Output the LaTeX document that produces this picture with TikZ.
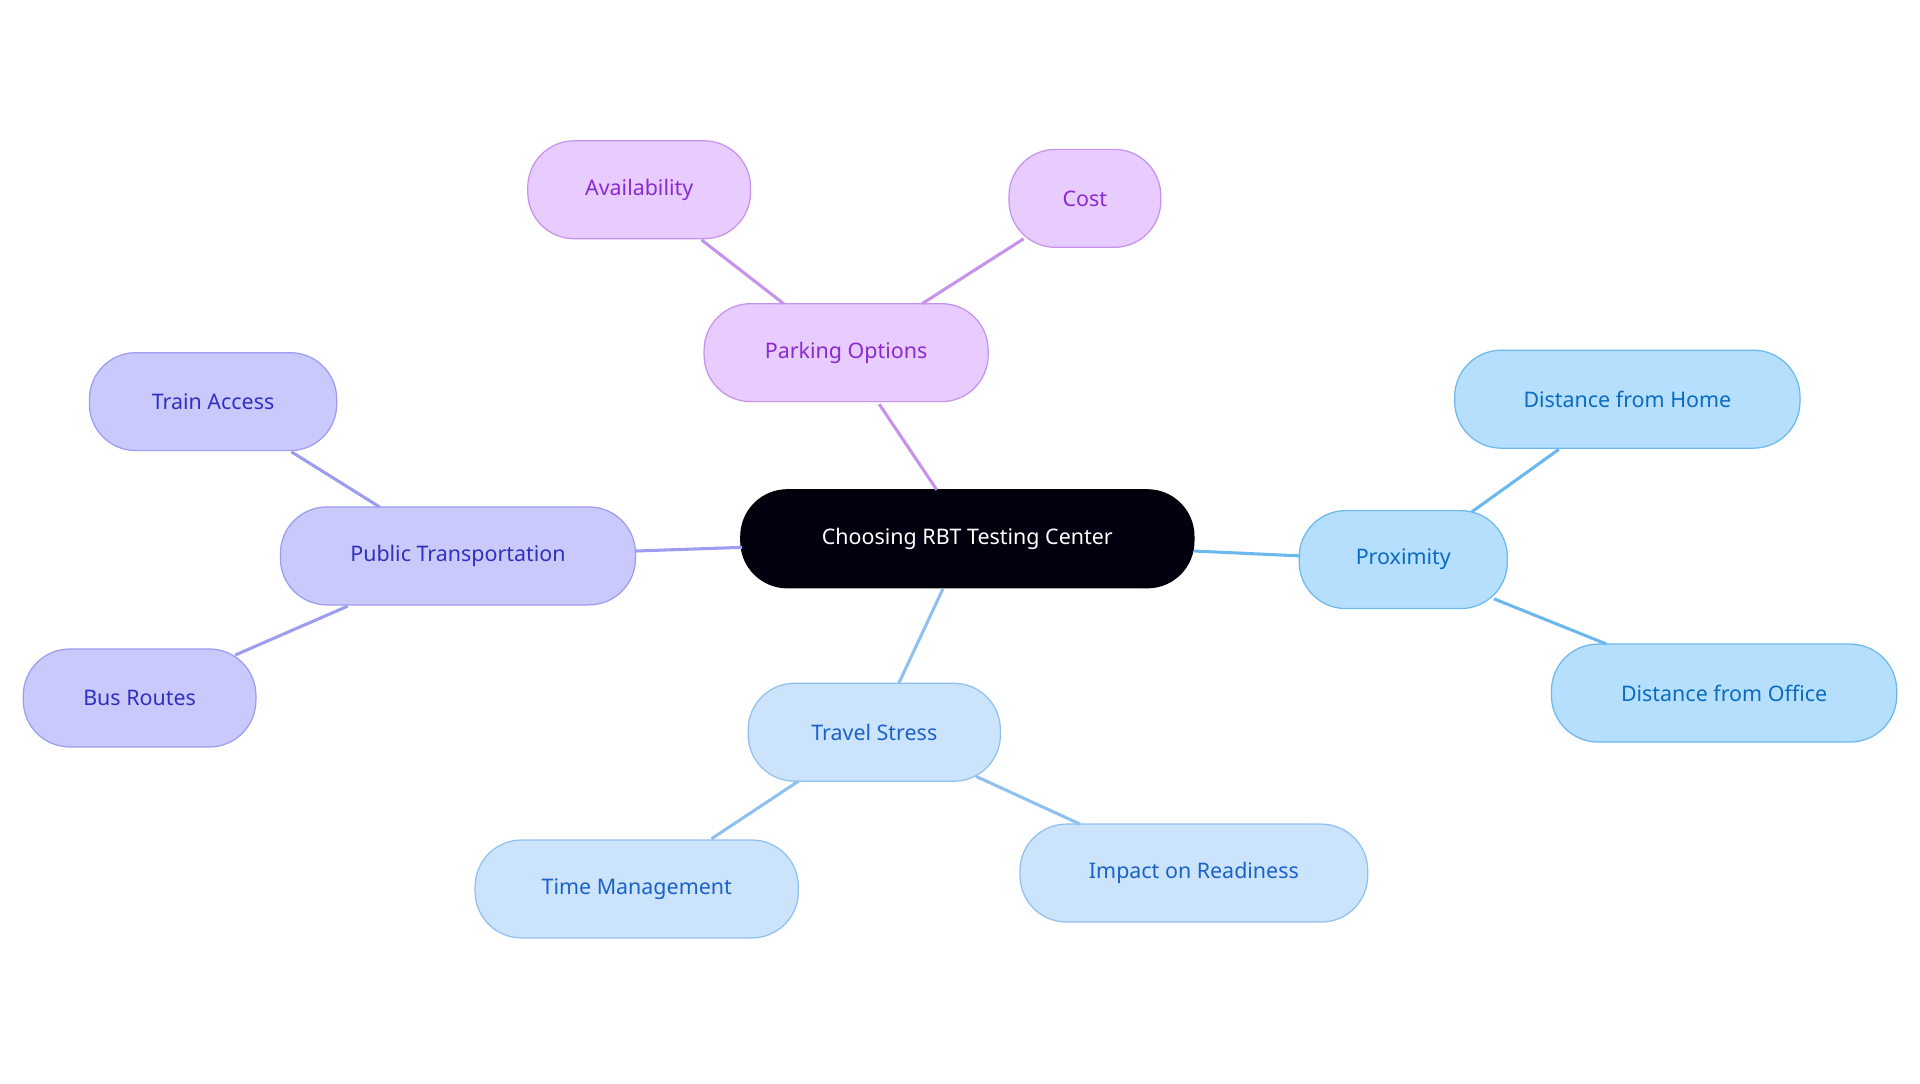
\documentclass[tikz,border=0pt]{standalone}
\usepackage{fontspec}
\setmainfont{Noto Sans}
\definecolor{pf}{HTML}{E8CBFF}\definecolor{pb}{HTML}{C592EC}\definecolor{pt}{HTML}{8A2BD0}
\definecolor{bf}{HTML}{C9C9FC}\definecolor{bb}{HTML}{9C9CF0}\definecolor{bt}{HTML}{3030C0}
\definecolor{xf}{HTML}{B5DFFD}\definecolor{xb}{HTML}{6BB8EE}\definecolor{xt}{HTML}{0A6BBF}
\definecolor{tf}{HTML}{CCE3FC}\definecolor{tb}{HTML}{90C0EE}\definecolor{tt}{HTML}{1A62C8}
\tikzset{
 n/.style={rounded corners=38pt,minimum height=80pt,inner sep=0pt,line width=1pt,font=\fontsize{17.5}{20}\selectfont},
 P/.style={n,fill=pf,draw=pb,text=pt},
 B/.style={n,fill=bf,draw=bb,text=bt},
 X/.style={n,fill=xf,draw=xb,text=xt},
 T/.style={n,fill=tf,draw=tb,text=tt},
 e/.style={line width=2.5pt}
}
\begin{document}
\begin{tikzpicture}[x=1pt,y=-1pt]
\useasboundingbox (0,0) rectangle (1568,885);
\node[n,fill=black!90!blue!60!black,draw=black,text=white,minimum width=370pt] (c) at (790,440) {Choosing RBT Testing Center};
\node[P,minimum width=232pt] (po) at (691,288) {Parking Options};
\node[P,minimum width=182pt] (av) at (522,155) {Availability};
\node[P,minimum width=124pt] (co) at (886,162) {Cost};
\node[B,minimum width=290pt] (pt) at (374,454) {Public Transportation};
\node[B,minimum width=202pt] (ta) at (174,328) {Train Access};
\node[B,minimum width=190pt] (br) at (114,570) {Bus Routes};
\node[X,minimum width=170pt] (px) at (1146,457) {Proximity};
\node[X,minimum width=282pt] (dh) at (1329,326) {Distance from Home};
\node[X,minimum width=282pt] (do) at (1408,566) {Distance from Office};
\node[T,minimum width=206pt] (ts) at (714,598) {Travel Stress};
\node[T,minimum width=264pt] (tm) at (520,726) {Time Management};
\node[T,minimum width=284pt] (ir) at (975,713) {Impact on Readiness};
\begin{scope}[on background layer/.style={}]
\end{scope}
\draw[e,pb] (765,400) -- (718,330);
\draw[e,pb] (640,248) -- (573,196);
\draw[e,pb] (753,248) -- (836,195);
\draw[e,bb] (606,447) -- (519,450);
\draw[e,bb] (310,414) -- (238,369);
\draw[e,bb] (284,495) -- (192,535);
\draw[e,xb] (975,450) -- (1062,454);
\draw[e,xb] (1202,418) -- (1273,367);
\draw[e,xb] (1220,489) -- (1312,526);
\draw[e,tb] (770,481) -- (734,558);
\draw[e,tb] (652,638) -- (581,685);
\draw[e,tb] (797,634) -- (882,673);
\end{tikzpicture}
\end{document}
